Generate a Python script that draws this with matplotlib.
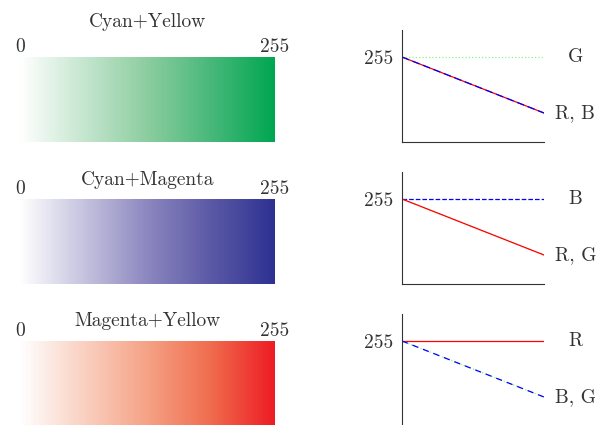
import numpy as np
import matplotlib
matplotlib.use('Agg')
import matplotlib.pyplot as plt
from matplotlib.colors import LinearSegmentedColormap

plt.rcParams['font.family'] = 'serif'
plt.rcParams['font.serif'] = ['cmr10']
plt.rcParams['mathtext.fontset'] = 'cm'
plt.rcParams['axes.formatter.use_mathtext'] = True

TEXT = '#333333'

# dati
titoli = ["Cyan+Yellow", "Cyan+Magenta", "Magenta+Yellow"]
# sfumature tipo tinta CMYK: bianco -> 50% -> 75% -> colore pieno
colori_medi = ["#8ccd9f", "#8c87bf", "#f5a285"]
colori_tre_quarti = ["#48b87a", "#5b59a6", "#f06c4e"]
colori_finali = ["#00a651", "#2e3192", "#ed1c24"]
livello_alto = 255
livello_finale = 87
# per ogni riga: canali costanti e canali decrescenti
etichette_costanti = ["G", "B", "R"]
etichette_decrescenti = ["R, B", "R, G", "B, G"]
stili_costanti = [("#90ee90", ":"), ("blue", "--"), ("red", "-")]
stili_decrescenti = [[("red", "-"), ("blue", (0, (6, 3)))],
                     [("#90ee90", ":"), ("red", "-")],
                     [("#90ee90", ":"), ("blue", (0, (5, 4)))]]
pos_titolo = [1.41, 1.22, 1.235]

fig = plt.figure(figsize=(5.96, 4.25), dpi=100)

for i in range(3):
    passo = i * 142 / 425
    # barra sfumata
    ax = fig.add_axes([20 / 596, 1 - 142 / 425 - passo, 255 / 596, 85 / 425])
    cmap = LinearSegmentedColormap.from_list(
        f"tinta{i}", [(0, "#ffffff"), (0.5, colori_medi[i]),
                      (0.75, colori_tre_quarti[i]), (1, colori_finali[i])])
    valori = np.linspace(0, 1, 256)[None, :]
    ax.imshow(valori, cmap=cmap, extent=[0, 255, 0, 1], aspect='auto',
              interpolation='bilinear')
    ax.set_xlim(0, 255)
    ax.set_ylim(0, 1)
    for s in ax.spines.values():
        s.set_visible(False)
    ax.set_yticks([])
    ax.xaxis.tick_top()
    ax.set_xticks([0, 255])
    ax.set_xticklabels(["0", "255"], fontsize=14, color=TEXT)
    ax.tick_params(axis='x', length=0, pad=1)
    ax.text(0.5, pos_titolo[i], titoli[i], transform=ax.transAxes,
            ha='center', va='center', fontsize=14, color=TEXT)

    # grafico dei canali
    ax2 = fig.add_axes([402 / 596, 1 - 142 / 425 - passo, 142 / 596, 112 / 425])
    x = [0, 1]
    col, ls = stili_costanti[i]
    ax2.plot(x, [livello_alto, livello_alto], color=col, linestyle=ls, lw=0.9)
    for col, ls in stili_decrescenti[i]:
        ax2.plot(x, [livello_alto, livello_finale], color=col, linestyle=ls, lw=0.9)
    ax2.set_xlim(0, 1)
    ax2.set_ylim(0, 336)
    ax2.spines['top'].set_visible(False)
    ax2.spines['right'].set_visible(False)
    ax2.spines['left'].set_color('#333333')
    ax2.spines['bottom'].set_color('#333333')
    ax2.set_xticks([])
    ax2.set_yticks([livello_alto])
    ax2.set_yticklabels(["255"], fontsize=14, color=TEXT)
    ax2.tick_params(axis='y', length=0, pad=6)
    ax2.text(1.22, livello_alto, etichette_costanti[i], ha='center', va='center',
             fontsize=14, color=TEXT, transform=ax2.get_yaxis_transform())
    ax2.text(1.22, livello_finale, etichette_decrescenti[i], ha='center', va='center',
             fontsize=14, color=TEXT, transform=ax2.get_yaxis_transform())

fig.savefig("out.png", dpi=100)
